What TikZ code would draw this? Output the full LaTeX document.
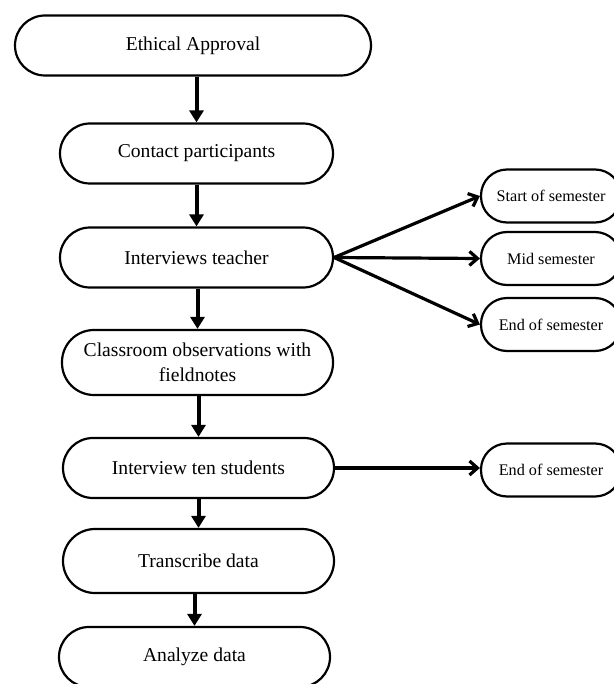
\documentclass[tikz,border=0pt]{standalone}
\usepackage{fontspec}
\setmainfont{Liberation Serif}
\usetikzlibrary{arrows.meta}
\begin{document}
\begin{tikzpicture}[x=0.5pt,y=-0.5pt,
  box/.style={draw,line width=1.1pt,rounded corners=15pt,minimum height=30pt,
    inner sep=0pt,align=center,font=\fontsize{9.8}{12.5}\selectfont},
  small/.style={box,rounded corners=13pt,minimum height=26.5pt,minimum width=70pt,
    font=\fontsize{8.1}{10}\selectfont},
  down/.style={line width=2pt,-{Triangle[width=7pt,length=6pt]}},
  side/.style={line width=1.6pt,-{Straight Barb[width=7pt,length=4pt]}}]
\useasboundingbox (0,0) rectangle (614,684);
%
\node[box,minimum width=178pt] (ethics) at (193,45.5) {Ethical Approval};
\node[box,minimum width=136.5pt] (contact) at (196.5,153.5) {Contact participants};
\node[box,minimum width=136.5pt] (teacher) at (196.5,257.5) {Interviews teacher};
\node[box,minimum width=135.5pt,minimum height=32.5pt,rounded corners=16pt] (observe)
  at (197.5,362.5) {Classroom observations with\\fieldnotes};
\node[box,minimum width=135.5pt] (students) at (198.5,468) {Interview ten students};
\node[box,minimum width=135.5pt,minimum height=32pt,rounded corners=16pt] (transcribe)
  at (198.5,561) {Transcribe data};
\node[box,minimum width=135.5pt] (analyze) at (194.5,657) {Analyze data};
%
\node[small] (start) at (551,196) {Start of semester};
\node[small] (mid) at (551,258.5) {Mid semester};
\node[small] (end) at (551,324.5) {End of semester};
\node[small] (endst) at (551,470) {End of semester};
%
\foreach \a/\b in {ethics/contact,contact/teacher,teacher/observe,
  observe/students,students/transcribe,transcribe/analyze}
  \draw[down] (\a.south -| \b.north) -- (\b.north);
%
\foreach \b in {start,mid,end}
  \draw[side] (teacher.east) -- (\b.west);
\draw[side] (students.east) -- (students.east -| endst.west);
%
\end{tikzpicture}
\end{document}
